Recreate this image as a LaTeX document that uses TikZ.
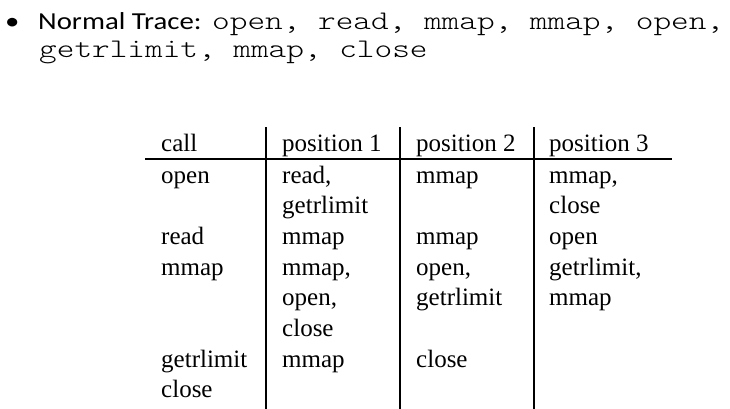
\documentclass[tikz,border=0pt]{standalone}
\usepackage{fontspec}
\setmainfont{Liberation Serif}
\newfontfamily\slidefont[FakeStretch=1.18]{Carlito}
\newfontfamily\tracefont[FakeStretch=1.25]{lmmonolt10-regular.otf}
\usetikzlibrary{calc}
\tikzset{cell/.style={anchor=base west, inner sep=0pt, font=\fontsize{25}{30}\selectfont}}
\tikzset{slide/.style={anchor=base west, inner sep=0pt, font=\slidefont\fontsize{24.4}{29}\selectfont}}
\tikzset{trace/.style={anchor=base west, inner sep=0pt, font=\tracefont\fontsize{26.9}{29}\selectfont}}

\begin{document}
\begin{tikzpicture}[x=1pt, y=-1pt]
    \useasboundingbox (0,0) rectangle (730,409);
    \def\dy{30.7};
    \def\top{183};

    % bullet line
    \node[slide] (bullet) at (5,30) {\textbullet};
    \node[slide] (label) at (38,30) {Normal Trace:};
    \node[trace] (trace1) at (212,30) {open, read, mmap, mmap, open,};
    \node[trace] (trace2) at (39,58) {getrlimit, mmap, close};

    % table rules
    \draw[line width=2pt] (145,159) -- (672,159);
    \foreach \vx in {266, 400, 534}
        \draw[line width=2pt] (\vx,127) -- (\vx,409);

    % header
    \node[cell] (call) at (161,151) {call};
    \node[cell] (pos1) at (282,151) {position 1};
    \node[cell] (pos2) at (416,151) {position 2};
    \node[cell] (pos3) at (549,151) {position 3};

    % entries: column x / line / text
    \foreach \cx/\ln/\txt in {161/0/open, 161/2/read, 161/3/mmap, 161/6/getrlimit, 161/7/close,
            282/0/{read,}, 282/1/getrlimit, 282/2/mmap, 282/3/{mmap,}, 282/4/{open,}, 282/5/close, 282/6/mmap,
            416/0/mmap, 416/2/mmap, 416/3/{open,}, 416/4/getrlimit, 416/6/close,
            549/0/{mmap,}, 549/1/close, 549/2/open, 549/3/{getrlimit,}, 549/4/mmap}
        \node[cell] (e\cx-\ln) at (\cx, \top + \ln*\dy) {\txt};

\end{tikzpicture}
\end{document}
